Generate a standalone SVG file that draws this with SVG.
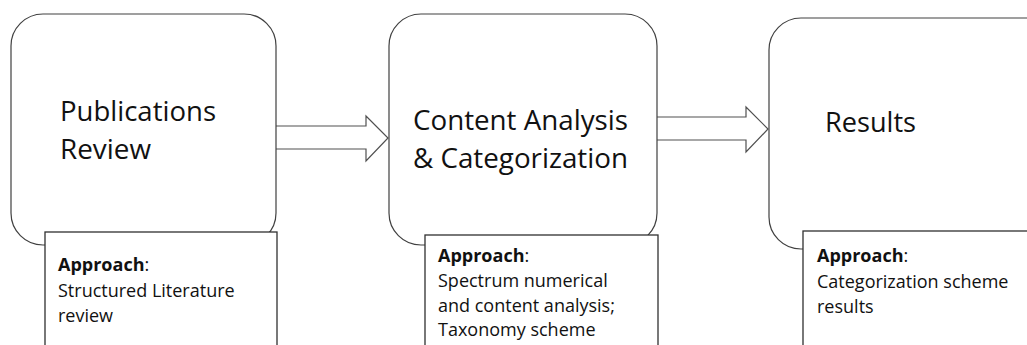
<svg xmlns="http://www.w3.org/2000/svg" width="1027" height="345" viewBox="0 0 1027 345">
<style>
.main{fill:#fff;stroke:#404040;stroke-width:1.2}
.appr{fill:#fff;stroke:#303030;stroke-width:1.3}
.arrow{fill:#fff;stroke:#505050;stroke-width:1.2;stroke-linejoin:miter}
.t{font-family:"Open Sans","Noto Sans",sans-serif;font-size:27px;fill:#111}
.s{font-family:"Open Sans","Noto Sans",sans-serif;font-size:18px;fill:#111}
.b{font-weight:bold}
</style>
<rect width="1027" height="345" fill="#fff"/>
<g id="connectors">
<path class="arrow" d="M276,126 H366 V116 L388,138 L366,161 V149 H276"/>
<path class="arrow" d="M657,117 H746 V107 L768,129 L746,152 V140 H657"/>
</g>
<g id="node-publications">
<rect class="main" x="11" y="14" width="265" height="231" rx="32"/>
<text class="t" x="60" y="121" textLength="156" lengthAdjust="spacingAndGlyphs">Publications</text>
<text class="t" x="60" y="159" textLength="91" lengthAdjust="spacingAndGlyphs">Review</text>
</g>
<g id="node-content">
<rect class="main" x="389" y="14" width="268" height="231" rx="32"/>
<text class="t" x="413" y="130" textLength="215" lengthAdjust="spacingAndGlyphs">Content Analysis</text>
<text class="t" x="413" y="168" textLength="215" lengthAdjust="spacingAndGlyphs">&amp; Categorization</text>
</g>
<g id="node-results">
<rect class="main" x="769" y="18" width="290" height="231" rx="32"/>
<text class="t" x="825" y="132" textLength="91" lengthAdjust="spacingAndGlyphs">Results</text>
</g>
<g id="approach-1">
<rect class="appr" x="45" y="232" width="232" height="130"/>
<text class="s" x="58" y="271"><tspan class="b">Approach</tspan>:</text>
<text class="s" x="58" y="297">Structured Literature</text>
<text class="s" x="58" y="322">review</text>
</g>
<g id="approach-2">
<rect class="appr" x="425" y="235" width="233" height="130"/>
<text class="s" x="438" y="262"><tspan class="b">Approach</tspan>:</text>
<text class="s" x="438" y="287">Spectrum numerical</text>
<text class="s" x="438" y="312">and content analysis;</text>
<text class="s" x="438" y="336">Taxonomy scheme</text>
</g>
<g id="approach-3">
<rect class="appr" x="803" y="231" width="250" height="130"/>
<text class="s" x="817" y="262"><tspan class="b">Approach</tspan>:</text>
<text class="s" x="817" y="288">Categorization scheme</text>
<text class="s" x="817" y="313">results</text>
</g>
</svg>
